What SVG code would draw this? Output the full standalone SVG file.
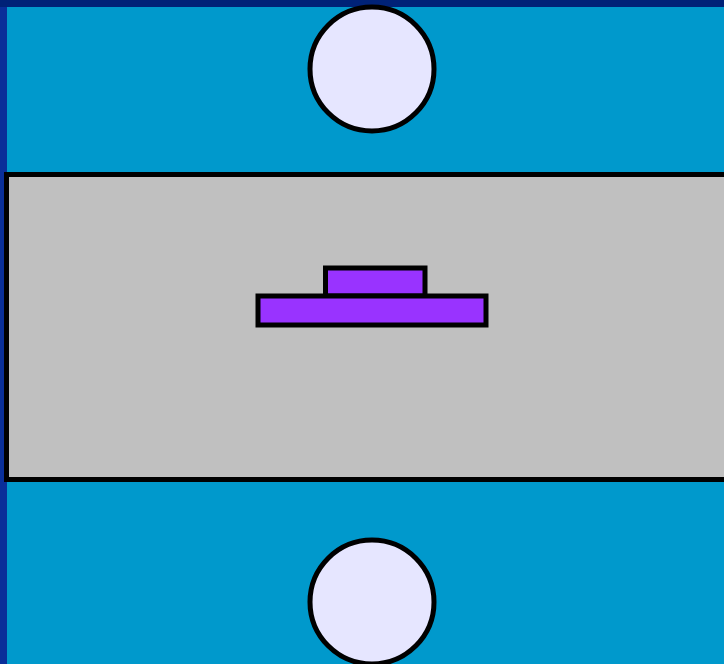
<svg xmlns="http://www.w3.org/2000/svg" width="724" height="664" viewBox="0 0 724 664">
<style>
.ln{stroke:#000;stroke-width:5}
.circ{fill:#e6e6ff}
.pur{fill:#9933ff}
</style>
<rect x="0" y="0" width="724" height="664" fill="#0099cc"/>
<rect x="0" y="0" width="7" height="664" fill="#0a2f99"/>
<rect x="0" y="0" width="724" height="7" fill="#002277"/>
<g id="slab">
<rect x="6.5" y="174.5" width="730" height="305" fill="#c0c0c0" class="ln"/>
</g>
<g id="circle-top"><circle cx="372" cy="69" r="62" class="circ ln"/></g>
<g id="circle-bottom"><circle cx="372" cy="602" r="62" class="circ ln"/></g>
<g id="block">
<rect x="325.5" y="268" width="99.5" height="28" class="pur ln"/>
<rect x="258" y="296" width="228" height="29" class="pur ln"/>
</g>
</svg>
